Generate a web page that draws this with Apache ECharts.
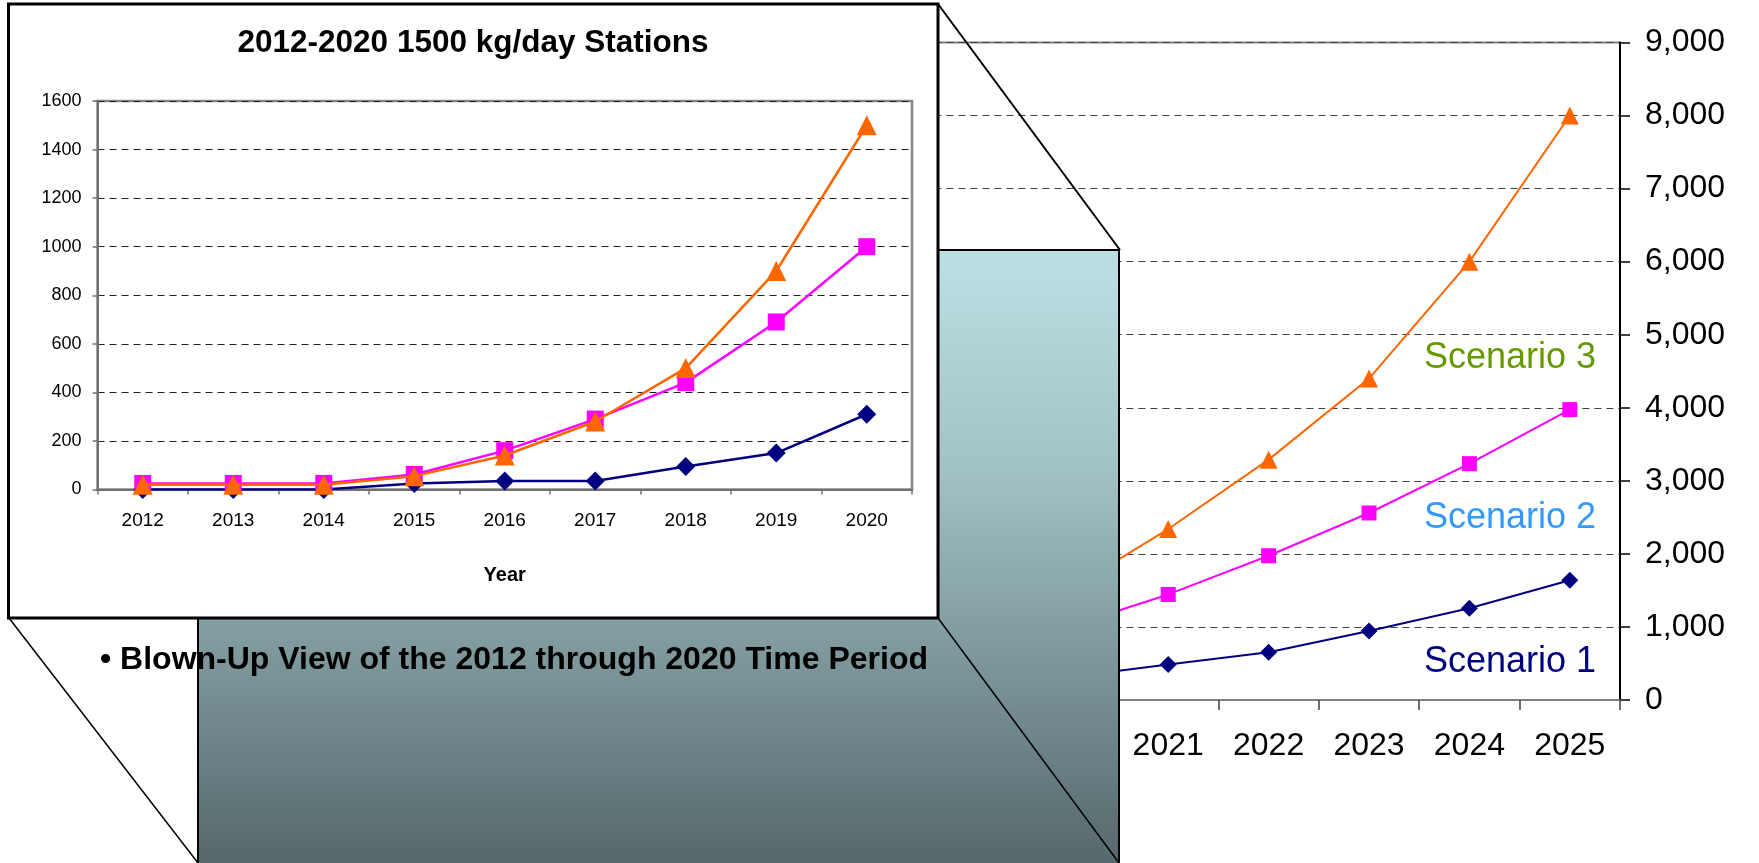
<!DOCTYPE html>
<html>
<head>
<meta charset="utf-8">
<script src="https://cdn.jsdelivr.net/npm/echarts@6/dist/echarts.min.js"></script>
<style>
html,body{margin:0;padding:0;background:#fff;}
#c{width:1759px;height:863px;}
</style>
</head>
<body>
<div id="c"></div>
<script>
// ---- data ----
const years = ['2012','2013','2014','2015','2016','2017','2018','2019','2020','2021','2022','2023','2024','2025'];
const insetYears = ['2012','2013','2014','2015','2016','2017','2018','2019','2020'];
const scenario1 = [0, 0, 0, 25, 35, 35, 95, 150, 310, 485, 655, 945, 1255, 1640];
const scenario2 = [25, 25, 25, 62, 160, 290, 440, 690, 1000, 1445, 1975, 2560, 3235, 3975];
const scenario3 = [20, 20, 20, 55, 140, 280, 500, 900, 1500, 2340, 3290, 4400, 6000, 8000];
const scenarioNames = ['Scenario 1', 'Scenario 2', 'Scenario 3'];
const insetTitle = '2012-2020 1500 kg/day Stations';
const insetAxisName = 'Year';
const bulletText = '\u2022 Blown-Up View of the 2012 through 2020 Time Period';

const lineColors = ['#000080', '#FF00FF', '#FF6600'];
const labelColors = ['#000080', '#3399FF', '#669900'];
const FONT = '"Liberation Sans", Arial, sans-serif';

const n = insetYears.length;
const insetS1 = scenario1.slice(0, n);
const insetS2 = scenario2.slice(0, n);
const insetS3 = scenario3.slice(0, n);

const chart = echarts.init(document.getElementById('c'), null, {renderer: 'canvas'});

const TOPZ = 60;

const option = {
  animation: false,
  backgroundColor: '#ffffff',
  grid: [
    { // main chart
      left: 214.4, top: 42.5, width: 1405.6, height: 657.5,
      show: true, borderColor: '#808080', borderWidth: 2, backgroundColor: 'transparent',
      outerBoundsMode: 'none', containLabel: false
    },
    { // inset chart
      left: 97.5, top: 101, width: 814.5, height: 388.5,
      show: true, borderColor: '#888888', borderWidth: 2.5, backgroundColor: 'transparent',
      outerBoundsMode: 'none', containLabel: false, z: TOPZ
    }
  ],
  xAxis: [
    {
      gridIndex: 0, type: 'category', data: years, boundaryGap: true,
      axisLine: {show: true, lineStyle: {color: '#808080', width: 2}},
      axisTick: {show: true, interval: 0, length: 10, lineStyle: {color: '#404040', width: 1.5}},
      axisLabel: {interval: 0, margin: 30, fontSize: 32, color: '#000', fontFamily: FONT},
      splitLine: {show: false}
    },
    {
      gridIndex: 1, type: 'category', data: insetYears, boundaryGap: true, z: TOPZ,
      axisLine: {show: true, lineStyle: {color: '#707070', width: 2}},
      axisTick: {show: true, interval: 0, length: 5, lineStyle: {color: '#707070', width: 1.5}},
      axisLabel: {interval: 0, margin: 22, fontSize: 19, color: '#000', fontFamily: FONT},
      name: insetAxisName, nameLocation: 'middle', nameGap: 76,
      nameTextStyle: {fontSize: 20, fontWeight: 'bold', color: '#000', fontFamily: FONT},
      splitLine: {show: false}
    }
  ],
  yAxis: [
    {
      gridIndex: 0, type: 'value', position: 'right', min: 0, max: 9000, interval: 1000,
      axisLine: {show: true, lineStyle: {color: '#000', width: 2}},
      axisTick: {show: true, length: 10, lineStyle: {color: '#000', width: 1.5}},
      axisLabel: {margin: 25, fontSize: 32, color: '#000', fontFamily: FONT,
        formatter: v => v.toLocaleString('en-US')},
      splitLine: {show: true, lineStyle: {color: '#404040', width: 1.2, type: [7, 5]}}
    },
    {
      gridIndex: 1, type: 'value', min: 0, max: 1600, interval: 200, z: TOPZ,
      axisLine: {show: true, lineStyle: {color: '#707070', width: 2}},
      axisTick: {show: true, length: 5, lineStyle: {color: '#707070', width: 1.5}},
      axisLabel: {margin: 16, fontSize: 18, color: '#000', fontFamily: FONT,
        formatter: v => String(v)},
      splitLine: {show: true, lineStyle: {color: '#222', width: 1.2, type: [7, 5]}}
    }
  ],
  series: [
    // main chart
    {type: 'line', name: scenarioNames[0], xAxisIndex: 0, yAxisIndex: 0, data: scenario1,
      symbol: 'diamond', symbolSize: 17, itemStyle: {color: lineColors[0]},
      lineStyle: {color: lineColors[0], width: 2}, z: 2},
    {type: 'line', name: scenarioNames[1], xAxisIndex: 0, yAxisIndex: 0, data: scenario2,
      symbol: 'rect', symbolSize: 15, itemStyle: {color: lineColors[1]},
      lineStyle: {color: lineColors[1], width: 2}, z: 3},
    {type: 'line', name: scenarioNames[2], xAxisIndex: 0, yAxisIndex: 0, data: scenario3,
      symbol: 'triangle', symbolSize: 18, itemStyle: {color: lineColors[2]},
      lineStyle: {color: lineColors[2], width: 2}, z: 4},
    // inset chart
    {type: 'line', xAxisIndex: 1, yAxisIndex: 1, data: insetS1,
      symbol: 'diamond', symbolSize: 19, itemStyle: {color: lineColors[0]},
      lineStyle: {color: lineColors[0], width: 2.5}, z: TOPZ + 1},
    {type: 'line', xAxisIndex: 1, yAxisIndex: 1, data: insetS2,
      symbol: 'rect', symbolSize: 17, itemStyle: {color: lineColors[1]},
      lineStyle: {color: lineColors[1], width: 2.5}, z: TOPZ + 2},
    {type: 'line', xAxisIndex: 1, yAxisIndex: 1, data: insetS3,
      symbol: 'triangle', symbolSize: 20, itemStyle: {color: lineColors[2]},
      lineStyle: {color: lineColors[2], width: 2.5}, z: TOPZ + 3}
  ],
  graphic: [
    // back face (gradient box)
    {type: 'rect', z: 50, shape: {x: 198, y: 250, width: 921, height: 620},
      style: {
        fill: new echarts.graphic.LinearGradient(0, 0, 0, 1, [
          {offset: 0, color: '#BBE0E3'},
          {offset: 0.35, color: '#A2C3C6'},
          {offset: 1, color: '#54666A'}
        ]),
        stroke: '#000', lineWidth: 2
      }},
    // projection lines
    {type: 'line', z: 51, shape: {x1: 938, y1: 4, x2: 1120, y2: 250}, style: {stroke: '#000', lineWidth: 2}},
    {type: 'line', z: 51, shape: {x1: 9, y1: 618, x2: 198, y2: 863}, style: {stroke: '#000', lineWidth: 1.5}},
    {type: 'line', z: 51, shape: {x1: 938, y1: 618, x2: 1119, y2: 863}, style: {stroke: '#000', lineWidth: 1.5}},
    // bullet text
    {type: 'text', z: 52, x: 100, y: 660,
      style: {text: bulletText, fill: '#000', font: 'bold 32px ' + FONT, textAlign: 'left', textVerticalAlign: 'middle'}},
    // inset frame
    {type: 'rect', z: 55, shape: {x: 8.5, y: 4, width: 929.5, height: 614},
      style: {fill: '#fff', stroke: '#000', lineWidth: 3}},
    // inset title
    {type: 'text', z: TOPZ + 5, x: 473, y: 43,
      style: {text: insetTitle, fill: '#000', font: 'bold 31.5px ' + FONT, textAlign: 'center', textVerticalAlign: 'middle'}},
    // scenario labels on main chart
    {type: 'text', z: 10, x: 1424, y: 358,
      style: {text: scenarioNames[2], fill: labelColors[2], font: '36px ' + FONT, textAlign: 'left', textVerticalAlign: 'middle'}},
    {type: 'text', z: 10, x: 1424, y: 518,
      style: {text: scenarioNames[1], fill: labelColors[1], font: '36px ' + FONT, textAlign: 'left', textVerticalAlign: 'middle'}},
    {type: 'text', z: 10, x: 1424, y: 662,
      style: {text: scenarioNames[0], fill: labelColors[0], font: '36px ' + FONT, textAlign: 'left', textVerticalAlign: 'middle'}}
  ]
};

chart.setOption(option);
</script>
</body>
</html>
